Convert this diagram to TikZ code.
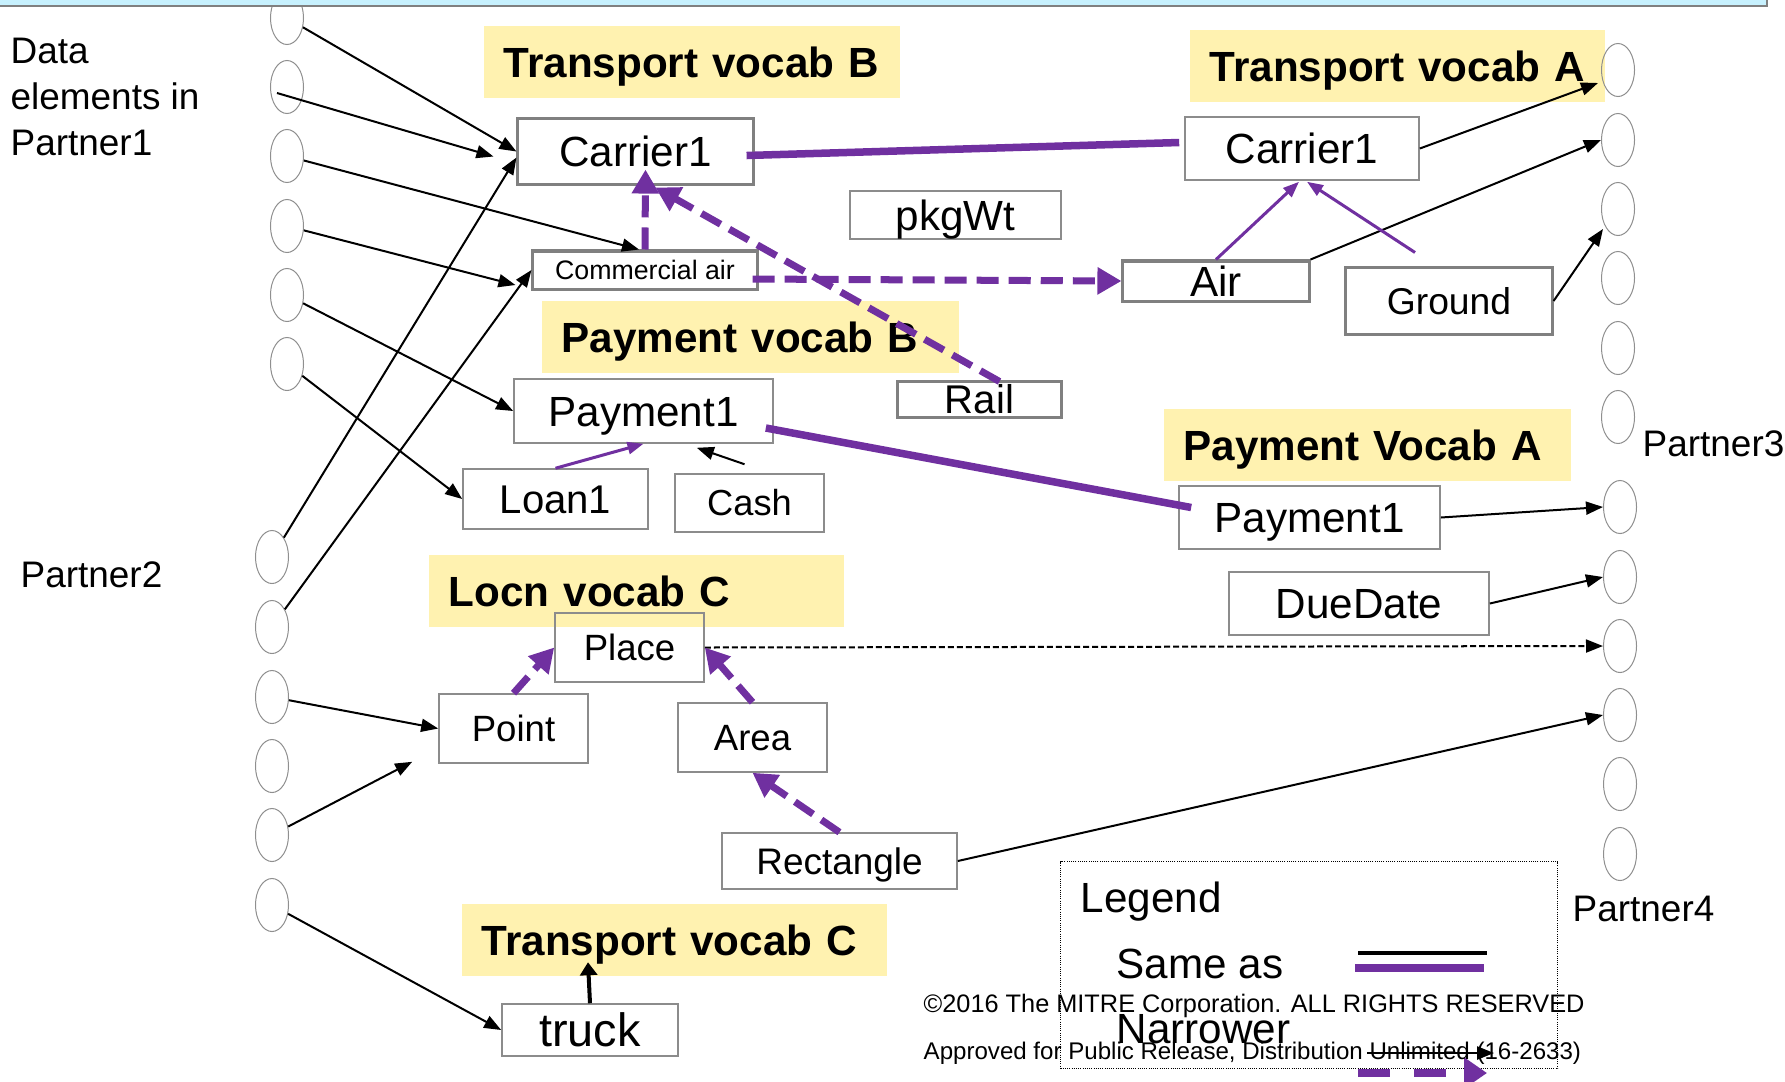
\documentclass[tikz,border=0pt]{standalone}
\usepackage{fontspec}
\setmainfont{Liberation Sans}
\usepackage{tikz}
\usetikzlibrary{positioning}
\usetikzlibrary{arrows.meta}
\usetikzlibrary{shapes.geometric}
\usetikzlibrary{calc}
\definecolor{samec}{HTML}{7030A0}
\definecolor{vocabc}{HTML}{FFF2B0}
\definecolor{boxc}{HTML}{8C8C8C}
\definecolor{portc}{HTML}{8F8F8F}
\definecolor{barc}{HTML}{C7F1FE}

\begin{document}
\begin{tikzpicture}[x=0.01cm, y=-0.01cm,
  term/.style={draw=boxc, line width=0.015cm, inner sep=0pt, text depth=0pt,
    font=\fontsize{#1}{#1}\selectfont,
    /utils/exec={\pgfmathsetlengthmacro\capht{0.716*#1pt}}, text height=\capht},
  term/.default=12,
  thickbox/.style={draw=gray, line width=0.03cm},
  vocab/.style={fill=vocabc, anchor=west, minimum height=0.72cm, inner xsep=0.2cm, inner ysep=0pt,
    align=left, text height=8.6pt, text depth=0pt, font=\bfseries\fontsize{12}{14}\selectfont},
  port/.style={ellipse, draw=portc, line width=0.01cm, minimum width=0.33cm, minimum height=0.53cm, inner sep=0pt},
  link/.style={line width=0.02cm, -{Triangle[length=0.17cm, width=0.13cm]}},
  subof/.style={draw=samec, line width=0.03cm, -{Triangle[length=0.16cm, width=0.12cm]}},
  sameas/.style={draw=samec, line width=0.075cm},
  narrower/.style={draw=samec, line width=0.07cm, dash pattern=on 0.22cm off 0.1cm,
    -{Triangle[length=0.24cm, width=0.26cm]}},
  lbl/.style={anchor=base west, inner sep=0pt, font=\fontsize{10.5}{12.95}\selectfont},
  legtext/.style={anchor=base west, inner sep=0pt, font=\fontsize{12}{14}\selectfont}]

\useasboundingbox (0,0) rectangle (1785,1081);

\node[vocab, text width=3.76cm] (tvB) at (483,62) {Transport vocab B};
\node[vocab, text width=3.75cm] (tvA) at (1189,66) {Transport vocab A};
\node[vocab, text width=3.77cm] (pvB) at (541,337) {Payment vocab B};
\node[vocab, text width=3.67cm] (pvA) at (1163,445) {Payment Vocab A};
\node[vocab, text width=3.75cm] (lvC) at (428,591) {Locn vocab C};
\node[vocab, text width=3.85cm] (tvC) at (461,940) {Transport vocab C};

\node[term, thickbox, minimum width=2.35cm, minimum height=0.65cm] (carB) at (635.5,151.5) {Carrier1};
\node[term=7.6, thickbox, minimum width=2.24cm, minimum height=0.38cm] (commair) at (645,270) {Commercial air};
\node[term, minimum width=2.11cm, minimum height=0.48cm] (pkg) at (955.5,215) {pkgWt};
\node[term=11.4, thickbox, minimum width=1.63cm, minimum height=0.36cm] (rail) at (979.5,399) {Rail};
\node[term, minimum width=2.59cm, minimum height=0.64cm] (payB) at (643.5,411) {Payment1};
\node[term=11.4, minimum width=1.85cm, minimum height=0.60cm] (loan) at (555.5,499) {Loan1};
\node[term=10.3, minimum width=1.49cm, minimum height=0.58cm] (cash) at (749.5,503) {Cash};
\node[term, minimum width=2.34cm, minimum height=0.63cm] (carA) at (1302,148.5) {Carrier1};
\node[term, thickbox, minimum width=1.86cm, minimum height=0.40cm] (air) at (1216,281) {Air};
\node[term=10.6, thickbox, minimum width=2.06cm, minimum height=0.66cm] (ground) at (1449,301) {Ground};
\node[term, minimum width=2.61cm, minimum height=0.63cm] (payA) at (1309.5,517.5) {Payment1};
\node[term, minimum width=2.60cm, minimum height=0.63cm] (due) at (1359,603.5) {DueDate};
\node[term=10.4, minimum width=1.49cm, minimum height=0.69cm] (place) at (629.5,647.5) {Place};
\node[term=10.4, minimum width=1.49cm, minimum height=0.69cm] (point) at (513.5,728.5) {Point};
\node[term=10.4, minimum width=1.49cm, minimum height=0.69cm] (area) at (752.5,737.5) {Area};
\node[term=10.5, minimum width=2.35cm, minimum height=0.56cm] (rectg) at (839.5,861) {Rectangle};
\node[term=13.3, minimum width=1.76cm, minimum height=0.52cm] (truck) at (590,1030) {truck};

\node[port] (pa1) at (287,18) {};
\node[port] (pa2) at (287,87) {};
\node[port] (pa3) at (287,156) {};
\node[port] (pa4) at (287,226) {};
\node[port] (pa5) at (287,295) {};
\node[port] (pa6) at (287,364) {};
\node[port] (pb1) at (272,557) {};
\node[port] (pb2) at (272,627) {};
\node[port] (pb3) at (272,697) {};
\node[port] (pb4) at (272,766) {};
\node[port] (pb5) at (272,835) {};
\node[port] (pb6) at (272,905) {};
\node[port] (pc1) at (1618,70) {};
\node[port] (pc2) at (1618,140) {};
\node[port] (pc3) at (1618,209) {};
\node[port] (pc4) at (1618,278) {};
\node[port] (pc5) at (1618,348) {};
\node[port] (pc6) at (1618,417) {};
\node[port] (pd1) at (1620,507) {};
\node[port] (pd2) at (1620,577) {};
\node[port] (pd3) at (1620,646) {};
\node[port] (pd4) at (1620,715) {};
\node[port] (pd5) at (1620,784) {};
\node[port] (pd6) at (1620,854) {};

\node[lbl, align=left] (p1lbl) at (10,155) {Data\\elements in\\Partner1};
\node[lbl] (p2lbl) at (20,587) {Partner2};
\node[lbl] (p3lbl) at (1642,456) {Partner3};
\node[lbl] (p4lbl) at (1572,921) {Partner4};

\draw[link] (pa1) -- (carB.west);
\draw[link] ($(pa2.center)+(-10,6)$) -- ($(carB.west)+(-23,5)$);
\draw[link] (pa3) -- ($(commair.north)+(-6,0)$);
\draw[link] (pa4) -- ($(commair.west)+(-16,15)$);
\draw[link] (pa5) -- (payB.west);
\draw[link] (pa6) -- (loan.west);
\draw[link] (pb1) -- ($(carB.west)+(0,6)$);
\draw[link] (pb2) -- (commair.west);
\draw[link] (pb3) -- (point.west);
\draw[link] (pb5) -- ($(point.south west)+(-26,-2)$);
\draw[link] (pb6) -- (truck.west);
\draw[link, line width=0.04cm, -{Triangle[length=0.13cm, width=0.17cm]}] (truck.north) -- ++(-2,-41);

\draw[link] (carA.east) -- ($(pc1.west)+(-3,13)$);
\draw[link] (air.north east) -- (pc2.west);
\draw[link] (ground.east) -- ($(pc3.west)+(2,20)$);
\draw[link] (payA.east) -- (pd1.west);
\draw[link] (due.east) -- (pd2.west);
\draw[link, dash pattern=on 0.06cm off 0.03cm] (place.east) -- (pd3.west);
\draw[link] (rectg.east) -- (pd4.west);
\draw[link] ($(cash.north)+(-5,-9)$) -- ($(payB.south east)+(-77,4)$);

\draw[subof] (loan.north) -- (payB.south);
\draw[subof] (air.north) -- ($(carA.south)+(-3,1)$);
\draw[subof] ($(ground.north)+(-34,-14)$) -- ($(carA.south)+(5,1)$);

\draw[sameas] ($(carB.east)+(-8,4)$) -- ($(carA.west)+(-5,-6)$);
\draw[sameas] ($(payB.east)+(-8,17)$) -- ($(payA.west)+(13,-10)$);

\draw[narrower] (commair.north) -- ($(carB.south)+(10,-16)$);
\draw[narrower] ($(rail.north)+(20,2)$) -- ($(carB.south)+(20,2)$);
\draw[narrower] ($(commair.east)+(-6,9)$) -- (air.west);
\draw[narrower] (point.north) -- (place.west);
\draw[narrower] (area.north) -- (place.east);
\draw[narrower] (rectg.north) -- (area.south);

\node[draw, line width=0.01cm, dash pattern=on 0.01cm off 0.012cm, anchor=north west, inner sep=0pt,
  minimum width=4.97cm, minimum height=2.07cm] (legend) at (1060,861) {};
\node[legtext] (legtitle) at (1080,912) {Legend};
\node[legtext] (legsame) at (1116,978) {Same as};
\node[legtext] (legnarr) at (1116,1043) {Narrower};
\coordinate (ls1) at (1358,953);
\coordinate (ls2) at (1487,953);
\coordinate (ls3) at (1355,968);
\coordinate (ls4) at (1484,968);
\coordinate (ln1) at (1367,1053);
\coordinate (ln2) at (1494,1053);
\coordinate (ln3) at (1358,1073);
\coordinate (ln4) at (1487,1073);
\draw[line width=0.04cm] (ls1) -- (ls2);
\draw[sameas] (ls3) -- (ls4);
\draw[link, line width=0.025cm] (ln1) -- (ln2);
\draw[narrower, line width=0.08cm, dash pattern=on 0.32cm off 0.24cm, -{Triangle[length=0.23cm, width=0.3cm]}] (ln3) -- (ln4);

\node[anchor=base west, inner sep=0pt, font=\fontsize{7.2}{8}\selectfont] (copy1) at (923,1012)
  {©2016 The MITRE Corporation. ALL RIGHTS RESERVED};
\node[anchor=base west, inner sep=0pt, font=\fontsize{6.85}{8}\selectfont] (copy2) at (923,1059)
  {Approved for Public Release, Distribution Unlimited (16-2633)};

\fill[barc] (0,0) rectangle (1767,6);
\draw[gray, line width=0.015cm] (0,6) -- (1767,6) -- (1767,0);

\end{tikzpicture}
\end{document}
